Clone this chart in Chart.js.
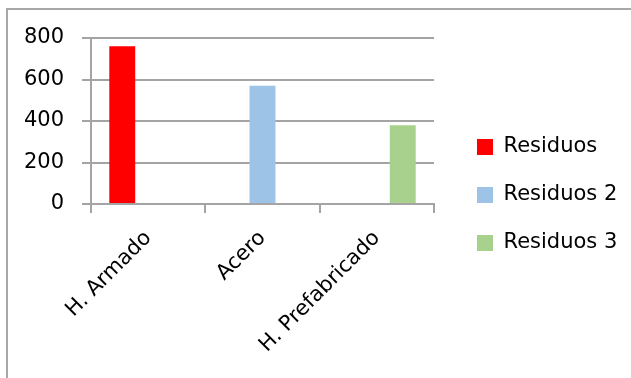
<!DOCTYPE html>
<html>
<head>
<meta charset="utf-8">
<script src="https://cdn.jsdelivr.net/npm/chart.js@4"></script>
<style>
    html, body { margin: 0; padding: 0; background: #fff; overflow: hidden; }
    #frame { position: absolute; left: 6px; top: 8px; width: 700px; height: 500px; border-left: 2px solid #a8a8a8; border-top: 2px solid #a8a8a8; }
    #wrap { position: absolute; left: 0; top: 0; width: 631px; height: 378px; }
</style>
</head>
<body>
<div id="frame"></div>
<div id="wrap"><canvas id="chart"></canvas></div>
<script>
// datos del gráfico
const categories = ["H. Armado", "Acero", "H. Prefabricado"];
const seriesNames = ["Residuos", "Residuos 2", "Residuos 3"];
const residuos = [760, null, null];
const residuos2 = [null, 570, null];
const residuos3 = [null, null, 380];
const yTicks = [0, 200, 400, 600, 800];

const colors = ["#ff0000", "#9dc3e6", "#a9d18e"];
const gridColor = "#a4a4a4";
const font = "'DejaVu Sans', sans-serif";

// la leyenda de Chart.js se limita a la mitad del ancho; la forzamos
const legendWidth = {
    id: "legendWidth",
    beforeInit(chart) {
        const fit = chart.legend.fit;
        chart.legend.fit = function () {
            fit.call(this);
            this.width = 181;
        };
    }
};

const chart = new Chart(document.getElementById("chart"), {
    type: "bar",
    data: {
        labels: categories,
        datasets: [residuos, residuos2, residuos3].map((d, i) => ({
            label: seriesNames[i],
            data: d,
            backgroundColor: colors[i],
            borderWidth: 0,
            categoryPercentage: 0.68,
            barPercentage: 1
        }))
    },
    options: {
        responsive: true,
        maintainAspectRatio: false,
        animation: false,
        layout: { padding: { left: 24, top: 38, right: 0, bottom: 26 } },
        plugins: {
            tooltip: { enabled: false },
            legend: {
                position: "right",
                labels: {
                    boxWidth: 16,
                    boxHeight: 16,
                    padding: 27,
                    color: "#000",
                    font: { family: font, size: 21 }
                }
            }
        },
        scales: {
            x: {
                grid: { drawOnChartArea: false, color: gridColor, lineWidth: 2, tickLength: 9, offset: true },
                border: { color: gridColor, width: 2 },
                ticks: {
                    color: "#000",
                    font: { family: font, size: 21 },
                    minRotation: 45,
                    maxRotation: 45,
                    padding: 13
                },
                afterFit: s => {
                    s.height = 148;
                    s.paddingLeft = 0;
                    s.paddingRight = 0;
                    if (s._margins) { s._margins.left = 0; s._margins.right = 0; }
                }
            },
            y: {
                min: 0,
                max: 800,
                afterBuildTicks: s => { s.ticks = yTicks.map(v => ({ value: v })); },
                grid: { color: gridColor, lineWidth: 2, tickLength: 9 },
                border: { color: gridColor, width: 2 },
                ticks: { color: "#000", font: { family: font, size: 21 }, padding: 18 },
                afterFit: s => { s.width = 67; }
            },
            y2: {
                position: "right",
                grid: { display: false },
                border: { display: false },
                ticks: { display: false },
                afterFit: s => { s.width = 16; }
            }
        }
    },
    plugins: [legendWidth]
});
</script>
</body>
</html>
